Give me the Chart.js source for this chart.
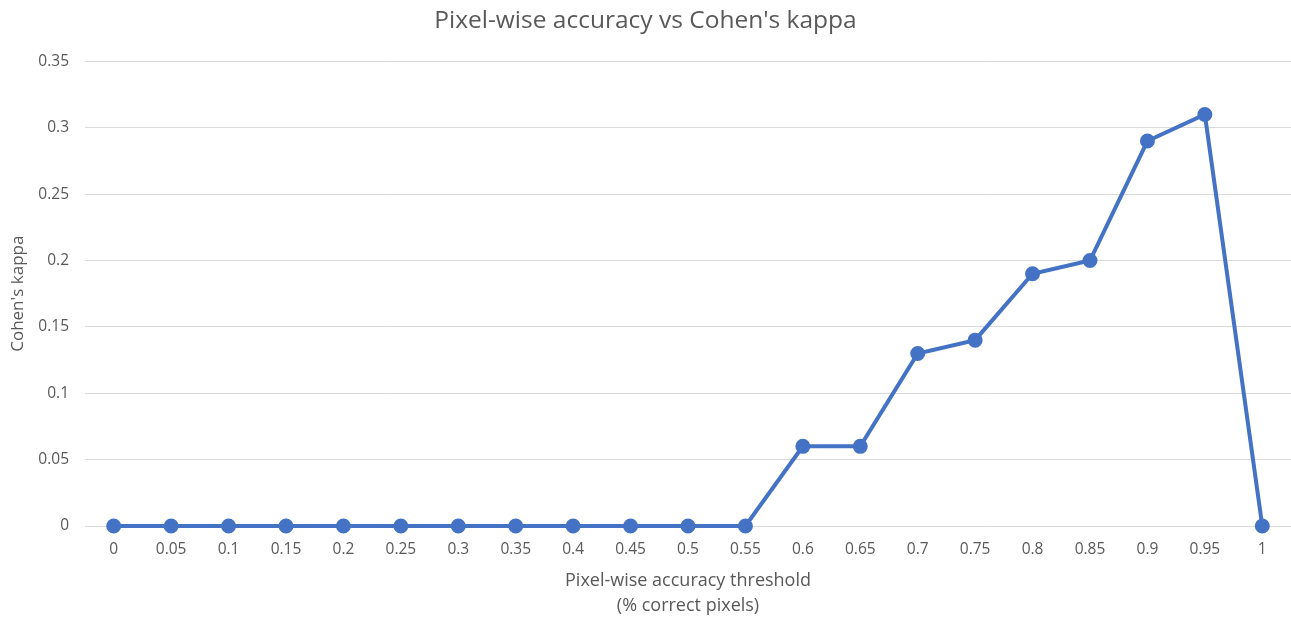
<!DOCTYPE html>
<html>
<head>
<meta charset="utf-8">
<script src="https://cdn.jsdelivr.net/npm/chart.js@4/dist/chart.umd.min.js"></script>
<style>
    html, body { margin: 0; padding: 0; background: #fff; }
    #wrap { width: 1291px; height: 619px; position: relative; }
</style>
</head>
<body>
<div id="wrap"><canvas id="chart"></canvas></div>
<script>
const thresholds = ["0", "0.05", "0.1", "0.15", "0.2", "0.25", "0.3", "0.35", "0.4", "0.45", "0.5",
    "0.55", "0.6", "0.65", "0.7", "0.75", "0.8", "0.85", "0.9", "0.95", "1"];
const kappa = [0, 0, 0, 0, 0, 0, 0, 0, 0, 0, 0, 0, 0.06, 0.06, 0.13, 0.14, 0.19, 0.2, 0.29, 0.31, 0];

const fontFamily = "'Open Sans', 'Liberation Sans', sans-serif";
const textColor = "#595959";

const ctx = document.getElementById("chart").getContext("2d");
new Chart(ctx, {
    type: "line",
    data: {
        labels: thresholds,
        datasets: [
            {
                label: "Cohen's kappa",
                data: kappa,
                borderColor: "#4472C4",
                backgroundColor: "#4472C4",
                borderWidth: 4,
                pointRadius: 5.5,
                pointHoverRadius: 5.5,
                tension: 0,
                fill: false,
                clip: false,
            },
        ],
    },
    options: {
        responsive: true,
        maintainAspectRatio: false,
        animation: false,
        layout: { autoPadding: false, padding: 0 },
        plugins: {
            legend: { display: false },
            tooltip: { enabled: false },
            title: {
                display: true,
                text: "Pixel-wise accuracy vs Cohen's kappa",
                color: textColor,
                font: { family: fontFamily, size: 24.5, weight: "normal" },
                padding: { top: 6, bottom: 26 },
            },
        },
        scales: {
            x: {
                offset: true,
                grid: { display: false, drawTicks: false },
                border: { display: false },
                ticks: {
                    color: textColor,
                    font: { family: fontFamily, size: 15.5 },
                    padding: 14,
                    maxRotation: 0,
                    autoSkip: false,
                },
                title: {
                    display: true,
                    text: ["Pixel-wise accuracy threshold", "(% correct pixels)"],
                    color: textColor,
                    font: { family: fontFamily, size: 18, lineHeight: 1.39 },
                    padding: { top: 17, bottom: 1 },
                },
                afterFit: (scale) => { scale.height = 93; },
            },
            y: {
                min: 0,
                max: 0.35,
                grid: { color: "#d9d9d9", lineWidth: 1, drawTicks: false },
                border: { display: false },
                ticks: {
                    stepSize: 0.05,
                    color: textColor,
                    font: { family: fontFamily, size: 15.5 },
                    padding: 16,
                    callback: (v) => Number(v.toFixed(2)).toString(),
                },
                title: {
                    display: true,
                    text: "Cohen's kappa",
                    color: textColor,
                    font: { family: fontFamily, size: 17 },
                    padding: { top: 8, bottom: 0 },
                },
                afterFit: (scale) => { scale.width = 85; },
            },
        },
    },
});
</script>
</body>
</html>
